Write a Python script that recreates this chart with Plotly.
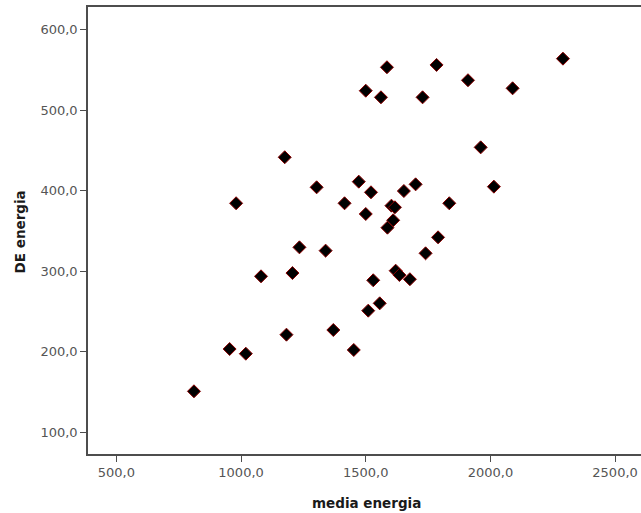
import plotly.graph_objects as go

media_energia = [980, 1175, 1303, 1415, 1472, 1500, 1521, 1500, 1585, 1561,
                 1587, 1603, 1617, 1610, 1653, 1700, 1728, 1784, 1835, 1790,
                 1910, 1961, 2014, 2089, 2291, 1234, 1339, 1740, 1080, 1206,
                 1620, 1635, 1530, 1677, 1556, 1510, 1182, 1370, 1452, 954,
                 1019, 811]
de_energia = [384.3, 441.4, 404.1, 384.3, 411.1, 371.0, 397.9, 524.0, 553.1, 515.8,
              354.0, 381.3, 379.3, 363.2, 399.5, 407.8, 515.8, 556.0, 384.3, 342.0,
              537.0, 453.7, 404.9, 527.0, 563.8, 329.6, 325.5, 322.2, 293.6, 297.7,
              300.6, 295.3, 288.7, 290.0, 260.1, 251.0, 221.2, 227.0, 202.2, 203.4,
              197.6, 150.9]

x_ticks = [500, 1000, 1500, 2000, 2500]
y_ticks = [100, 200, 300, 400, 500, 600]
x_title = "media energia"
y_title = "DE energia"

fig = go.Figure(go.Scatter(
    x=media_energia, y=de_energia, mode="markers",
    marker=dict(symbol="diamond", size=10, color="black",
                line=dict(color="#8b0000", width=1)),
    showlegend=False,
))

axis_common = dict(
    showgrid=False, zeroline=False, showline=True, linecolor="#4d4d4d",
    linewidth=1.5, ticks="outside", ticklen=6, tickcolor="#4d4d4d",
    tickformat=".1f", automargin=False,
    tickfont=dict(family="DejaVu Sans", size=13, color="#555"),
)

title_font = dict(family="DejaVu Sans", size=13.5, color="#1a1a1a")

fig.update_layout(
    width=641, height=513,
    margin=dict(l=88, r=0, t=7, b=59, autoexpand=False),
    plot_bgcolor="white", paper_bgcolor="white",
    separators=",.",
    xaxis=dict(axis_common, range=[386, 2604], tickvals=x_ticks, mirror=True),
    yaxis=dict(axis_common, range=[73.1, 627.9], tickvals=y_ticks),
    annotations=[
        dict(text="<b>" + x_title + "</b>", xref="paper", yref="paper",
             x=0.503, y=-0.1096, xanchor="center", yanchor="middle",
             showarrow=False, font=title_font),
        dict(text="<b>" + y_title + "</b>", xref="paper", yref="paper",
             x=-0.123, y=0.498, xanchor="center", yanchor="middle",
             textangle=-90, showarrow=False, font=title_font),
    ],
)

fig.write_html("out.html", config={"displayModeBar": False},
               post_script="document.body.style.margin='0';document.body.style.overflow='hidden';")
